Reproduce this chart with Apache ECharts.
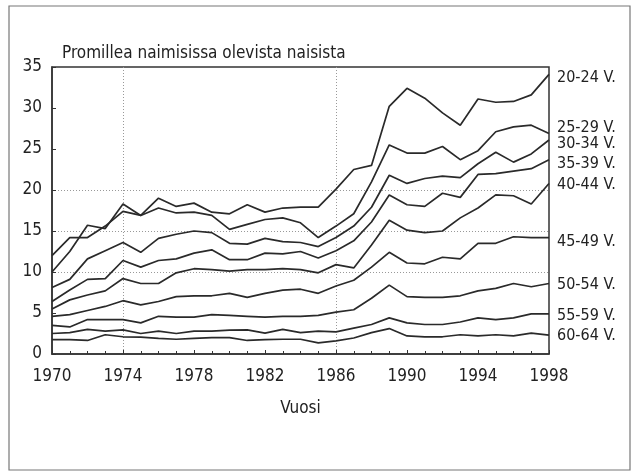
<!DOCTYPE html>
<html>
<head>
<meta charset="utf-8">
<script src="https://cdn.jsdelivr.net/npm/echarts@6/dist/echarts.min.js"></script>
<style>
  html, body { margin: 0; padding: 0; background: #fff; }
  #chart { width: 638px; height: 473px; }
</style>
</head>
<body>
<div id="chart"></div>
<script>
// vuodet 1970-1998
var years = [1970, 1971, 1972, 1973, 1974, 1975, 1976, 1977, 1978, 1979,
  1980, 1981, 1982, 1983, 1984, 1985, 1986, 1987, 1988, 1989,
  1990, 1991, 1992, 1993, 1994, 1995, 1996, 1997, 1998]

var ageGroups = ['20-24', '25-29', '30-34', '35-39', '40-44', '45-49', '50-54', '55-59', '60-64']

// promillea naimisissa olevista naisista, ikaryhmittain
var v2024 = [10.0, 12.5, 15.7, 15.3, 18.3, 16.9, 19.0, 18.0, 18.4, 17.3, 17.1, 18.2, 17.3, 17.8, 17.9, 17.9, 20.1, 22.5, 23.0, 30.2, 32.4, 31.2, 29.4, 27.9, 31.1, 30.7, 30.8, 31.6, 34.1]
var v2529 = [12.0, 14.2, 14.2, 15.6, 17.4, 16.9, 17.8, 17.2, 17.3, 16.9, 15.2, 15.8, 16.4, 16.6, 16.0, 14.2, 15.6, 17.1, 21.0, 25.5, 24.5, 24.5, 25.3, 23.7, 24.8, 27.1, 27.7, 27.9, 26.9]
var v3034 = [8.1, 9.1, 11.6, 12.6, 13.6, 12.4, 14.1, 14.6, 15.0, 14.8, 13.5, 13.4, 14.1, 13.7, 13.6, 13.1, 14.2, 15.6, 17.9, 21.8, 20.8, 21.4, 21.7, 21.5, 23.2, 24.6, 23.4, 24.4, 26.1]
var v3539 = [6.4, 7.8, 9.1, 9.2, 11.4, 10.6, 11.4, 11.6, 12.3, 12.7, 11.5, 11.5, 12.3, 12.2, 12.5, 11.7, 12.6, 13.8, 16.1, 19.4, 18.2, 18.0, 19.6, 19.1, 21.9, 22.0, 22.3, 22.6, 23.7]
var v4044 = [5.5, 6.6, 7.2, 7.7, 9.2, 8.6, 8.6, 9.9, 10.4, 10.3, 10.1, 10.3, 10.3, 10.4, 10.3, 9.9, 10.9, 10.5, 13.3, 16.3, 15.1, 14.8, 15.0, 16.6, 17.8, 19.4, 19.3, 18.3, 20.8]
var v4549 = [4.6, 4.8, 5.3, 5.8, 6.5, 6.0, 6.4, 7.0, 7.1, 7.1, 7.4, 6.9, 7.4, 7.8, 7.9, 7.4, 8.3, 9.0, 10.6, 12.4, 11.1, 11.0, 11.8, 11.6, 13.5, 13.5, 14.3, 14.2, 14.2]
var v5054 = [3.5, 3.3, 4.2, 4.2, 4.2, 3.8, 4.6, 4.5, 4.5, 4.8, 4.7, 4.6, 4.5, 4.6, 4.6, 4.7, 5.1, 5.4, 6.8, 8.4, 7.0, 6.9, 6.9, 7.1, 7.7, 8.0, 8.6, 8.2, 8.6]
var v5559 = [2.5, 2.6, 3.0, 2.8, 2.95, 2.5, 2.8, 2.5, 2.8, 2.8, 2.9, 2.95, 2.55, 3.0, 2.6, 2.8, 2.7, 3.15, 3.6, 4.4, 3.8, 3.6, 3.6, 3.9, 4.4, 4.2, 4.4, 4.9, 4.9]
var v6064 = [1.75, 1.75, 1.65, 2.35, 2.1, 2.05, 1.9, 1.8, 1.9, 2.0, 2.0, 1.65, 1.75, 1.8, 1.8, 1.35, 1.6, 1.95, 2.6, 3.1, 2.2, 2.1, 2.1, 2.35, 2.2, 2.35, 2.2, 2.55, 2.3]

var allValues = [v2024, v2529, v3034, v3539, v4044, v4549, v5054, v5559, v6064]
// loppuetikettien pystysiirrot, jotta ne eivat mene paallekkain
var labelShift = [3, -6, 4, 4, 1, 4, 1, 2, 1]

var font = "'Liberation Sans Narrow', 'DejaVu Sans Condensed', sans-serif"

var series = ageGroups.map(function (name, i) {
  return {
    name: name,
    type: 'line',
    symbol: 'none',
    animation: false,
    data: years.map(function (y, j) { return [y, allValues[i][j]] }),
    lineStyle: { color: '#2a2a2a', width: 1.7 },
    endLabel: {
      show: true,
      formatter: name + ' V.',
      color: '#222',
      fontFamily: font,
      fontSize: 16,
      distance: 8,
      offset: [0, labelShift[i]]
    }
  }
})

var chart = echarts.init(document.getElementById('chart'))

chart.setOption({
  backgroundColor: '#fff',
  animation: false,
  grid: {
    left: 52, right: 89, top: 67, bottom: 119,
    show: true, borderColor: '#333', borderWidth: 1.5
  },
  graphic: [
    {
      type: 'rect',
      shape: { x: 9, y: 6, width: 621, height: 464 },
      style: { fill: 'none', stroke: '#777', lineWidth: 1.2 }
    },
    {
      type: 'text',
      style: {
        x: 62, y: 54, text: 'Promillea naimisissa olevista naisista',
        font: '17px ' + font, fill: '#222', textVerticalAlign: 'middle'
      }
    }
  ],
  xAxis: {
    type: 'value',
    min: 1970, max: 1998, interval: 4,
    name: 'Vuosi',
    nameLocation: 'middle',
    nameGap: 46,
    nameTextStyle: { fontFamily: font, fontSize: 17, color: '#222' },
    axisLine: { lineStyle: { color: '#333', width: 1.5 } },
    axisTick: { inside: true, length: 4, lineStyle: { color: '#333' } },
    minorTick: { show: true, splitNumber: 4, length: 3, lineStyle: { color: '#333' } },
    axisLabel: {
      fontFamily: font, fontSize: 17, color: '#222', margin: 14,
      formatter: function (v) { return String(v) }
    },
    splitLine: {
      show: true,
      lineStyle: { type: [1, 2], width: 1, color: ['rgba(0,0,0,0)', '#999', 'rgba(0,0,0,0)', 'rgba(0,0,0,0)', '#999', 'rgba(0,0,0,0)', 'rgba(0,0,0,0)', 'rgba(0,0,0,0)'] }
    }
  },
  yAxis: {
    type: 'value',
    min: 0, max: 35, interval: 5,
    axisLine: { show: true, lineStyle: { color: '#333', width: 1.5 } },
    axisTick: { show: true, inside: true, length: 4, lineStyle: { color: '#333' } },
    axisLabel: { fontFamily: font, fontSize: 17, color: '#222', margin: 10 },
    splitLine: {
      show: true,
      lineStyle: { type: [1, 2], width: 1, color: ['rgba(0,0,0,0)', 'rgba(0,0,0,0)', '#999', '#999', '#999', 'rgba(0,0,0,0)', 'rgba(0,0,0,0)', 'rgba(0,0,0,0)'] }
    }
  },
  series: series
})
</script>
</body>
</html>
